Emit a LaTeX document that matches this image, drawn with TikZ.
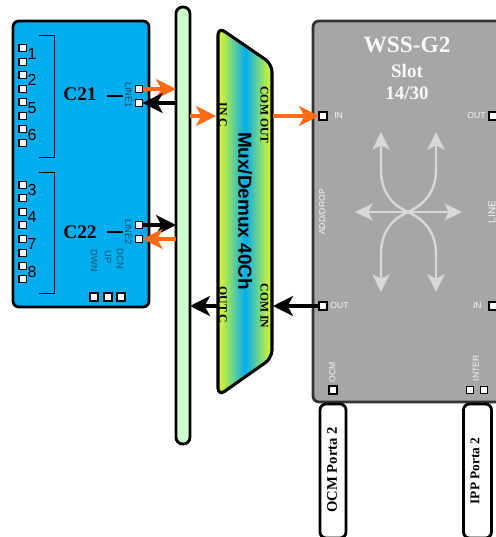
\documentclass[tikz,border=0pt]{standalone}
\usepackage{fontspec}
\setmainfont{Liberation Serif}
\setsansfont{Liberation Sans}
\usetikzlibrary{arrows.meta}
\definecolor{cardblue}{HTML}{00AEEF}
\definecolor{busgreen}{HTML}{CCFFCC}
\definecolor{wssgray}{HTML}{A6A6A6}
\definecolor{arrorange}{HTML}{FF6A13}
\definecolor{muxlime}{HTML}{E6FC1E}
\definecolor{lblteal}{HTML}{0B4F6C}
\definecolor{lightarr}{HTML}{D8D8D8}
\tikzset{
  x=0.75pt,y=-0.75pt,
  portbox/.style={draw=black,fill=white,line width=0.9pt,minimum size=5.4pt,inner sep=0pt,outer sep=0pt},
  block/.style={draw=black,line width=2.1pt,inner sep=0pt,outer sep=0pt,rounded corners=4.5pt},
  cardnum/.style={font=\sffamily\fontsize{12pt}{14pt}\selectfont,text=black,inner sep=0pt},
  cardname/.style={font=\bfseries\fontsize{14.5pt}{16pt}\selectfont,inner sep=0pt},
  tinyblue/.style={font=\sffamily\fontsize{7pt}{8pt}\selectfont,text=lblteal,inner sep=0pt,rotate=-90},
  tinywhite/.style={font=\sffamily\fontsize{6.5pt}{7pt}\selectfont,text=white!88!wssgray,inner sep=0pt},
  muxlbl/.style={font=\bfseries\fontsize{8.8pt}{10pt}\selectfont,text=black,inner sep=0pt,rotate=-90},
  wsstitle/.style={font=\bfseries\fontsize{14.3pt}{15pt}\selectfont,text=white!92!wssgray,inner sep=0pt},
  portalbl/.style={font=\bfseries\fontsize{11pt}{12pt}\selectfont,inner sep=0pt,rotate=90},
  orangearr/.style={draw=arrorange,line width=2.3pt,-{Stealth[length=15pt,width=15pt,inset=4pt,color=arrorange]}},
  blackarr/.style={draw=black,line width=2.3pt,-{Stealth[length=15pt,width=15pt,inset=4pt,color=black]}},
  lightlink/.style={draw=lightarr,line width=1.8pt,-{Stealth[length=13pt,width=12.5pt,inset=3pt,color=lightarr]}},
  bracketline/.style={draw=black,line width=0.7pt},
}
\begin{document}
\begin{tikzpicture}
\clip (0,0) rectangle (496,537);
\fill[white] (0,0) rectangle (496,537);

% main blocks
\node[block,fill=cardblue,minimum width=102pt,minimum height=214.5pt] (card) at (81,164) {};
\node[block,fill=busgreen,minimum width=10.5pt,minimum height=327.75pt,rounded corners=5pt] (bus) at (183,225.5) {};
\node[block,fill=wssgray,minimum width=185.25pt,minimum height=285.75pt,draw=black!80] (wss) at (436.5,211.5) {};
\node[block,fill=white,minimum width=19.5pt,minimum height=100.5pt] (ocmbox) at (333,471) {};
\node[block,fill=white,minimum width=21pt,minimum height=100.5pt] (ippbox) at (477.5,471) {};

% mux
\shade[left color=muxlime,right color=muxlime,middle color=cardblue,rounded corners=6pt]
  (218,27) -- (272,64) -- (272,358) -- (218,396) -- cycle;
\draw[line width=2.3pt,rounded corners=6pt,line join=round]
  (218,27) -- (272,64) -- (272,358) -- (218,396) -- cycle;
\coordinate (muxinc) at (216,116);
\coordinate (muxcomout) at (273,116);
\coordinate (muxcomin) at (273,306);
\coordinate (muxoutc) at (217,306);
\node[muxlbl] (lincc) at (223,115) {IN C};
\node[muxlbl] (lcomout) at (264.5,115) {COM OUT};
\node[muxlbl] (loutc) at (223,305) {OUT C};
\node[muxlbl] (lcomin) at (264.5,306) {COM IN};
\node[font=\sffamily\bfseries\fontsize{14.2pt}{16pt}\selectfont,rotate=-90,inner sep=0pt,text=black] (muxname) at (245,211) {Mux/Demux 40Ch};

% card left ports
\foreach \n/\y in {a/48,b/62,c/75,d/89,e/102,f/116,g/129,h/143,i/185,j/198,k/212,l/225,m/239,n/253,o/266,p/279}
  \node[portbox] (cp\n) at (22.5,\y) {};
\node[cardnum] (n1) at (32,54) {1};
\node[cardnum] (n2) at (32,80) {2};
\node[cardnum] (n5) at (32,108) {5};
\node[cardnum] (n6) at (32,135) {6};
\node[cardnum] (n3) at (32,190) {3};
\node[cardnum] (n4) at (32,217) {4};
\node[cardnum] (n7) at (32,244) {7};
\node[cardnum] (n8) at (32,272) {8};

% brackets
\draw[bracketline] (39,35) -- (54,35) -- (54,157) -- (39,157);
\draw[bracketline] (39,172) -- (54,172) -- (54,293) -- (39,293);

% card names
\node[cardname] (c21) at (80,94) {C21};
\node[cardname] (c22) at (80,232) {C22};
\draw[line width=1pt] (107,96) -- (123,96);
\draw[line width=1pt] (107,232) -- (123,232);

% card right and bottom ports
\node[portbox] (line1a) at (139,89) {};
\node[portbox] (line1b) at (139,103) {};
\node[portbox] (line2a) at (139,225) {};
\node[portbox] (line2b) at (139,239) {};
\node[tinyblue] (l1) at (128.5,95) {LINE1};
\node[tinyblue] (l2) at (128.5,232) {LINE2};
\node[tinyblue] (ldwn) at (94,261) {DWN};
\node[tinyblue] (lup) at (108,257) {UP};
\node[tinyblue] (ldcn) at (120,259) {DCN};
\node[portbox,minimum size=6pt] (pdwn) at (94,297) {};
\node[portbox,minimum size=6pt] (pup) at (108,297) {};
\node[portbox,minimum size=6pt] (pdcn) at (121,297) {};

% WSS ports and labels
\node[portbox,minimum size=6pt] (wssin) at (323,116) {};
\node[portbox,minimum size=6pt] (wssout) at (323,306) {};
\node[portbox,minimum size=6pt] (wssrout) at (493,116) {};
\node[portbox,minimum size=6pt] (wssrin) at (493,306) {};
\node[portbox,minimum size=6pt] (wssocm) at (333,390) {};
\node[portbox,minimum size=5.4pt] (wssint) at (470,390) {};
\node[portbox,minimum size=5.4pt] (wssx) at (484,390) {};
\node[tinywhite,anchor=west] (tin) at (334,116) {IN};
\node[tinywhite,anchor=west] (tout) at (330,306) {OUT};
\node[tinywhite,anchor=east] (trout) at (486,116) {OUT};
\node[tinywhite,anchor=east] (trin) at (482,306) {IN};
\node[tinywhite,rotate=90] (tadd) at (322,212) {ADD/DROP};
\node[tinywhite,rotate=90,font=\sffamily\fontsize{7.5pt}{8pt}\selectfont] (tline) at (492,212) {LINE};
\node[tinywhite,rotate=90] (tocm) at (332.5,372) {OCM};
\node[tinywhite,rotate=90] (tinter) at (476,368) {INTER};
\node[wsstitle] (t1) at (407,45) {\fontsize{17.5pt}{18pt}\selectfont WSS-G2};
\node[wsstitle] (t2) at (407,71) {Slot};
\node[wsstitle] (t3) at (407,93) {14/30};

% WSS central arrows
\coordinate (wc) at (408,212);
\coordinate (wl) at (355,212);
\coordinate (wr) at (462,212);
\coordinate (wul) at (381,132);
\coordinate (wur) at (436,132);
\coordinate (wdl) at (381,292);
\coordinate (wdr) at (436,292);
\draw[lightlink] (wc) -- (wl);
\draw[lightlink] (wc) -- (wr);
\draw[lightlink] (wc) .. controls (390,204) and (381,190) .. (381,170) -- (wul);
\draw[lightlink] (wc) .. controls (426,204) and (436,190) .. (436,170) -- (wur);
\draw[lightlink] (wc) .. controls (390,220) and (381,234) .. (381,254) -- (wdl);
\draw[lightlink] (wc) .. controls (426,220) and (436,234) .. (436,254) -- (wdr);

% box labels
\node[portalbl] (tocmb) at (332,470) {OCM Porta 2};
\node[portalbl,font=\bfseries\fontsize{10pt}{11pt}\selectfont] (tippb) at (475,471) {IPP Porta 2};

% connectors
\draw[orangearr] (line1a.east) -- (bus.west |- line1a);
\draw[blackarr] (bus.west |- line1b) -- (line1b.east);
\draw[blackarr] (line2a.east) -- (bus.west |- line2a);
\draw[orangearr] (bus.west |- line2b) -- (line2b.east);
\draw[orangearr] (bus.east |- muxinc) -- (muxinc);
\draw[orangearr] (muxcomout) -- (wssin.west);
\draw[blackarr] (wssout.west) -- (muxcomin);
\draw[blackarr] (muxoutc) -- (bus.east |- muxoutc);
\end{tikzpicture}
\end{document}
